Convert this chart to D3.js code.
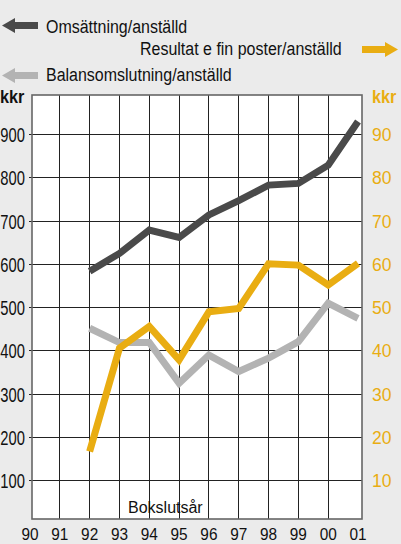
<!DOCTYPE html>
<html>
<head>
<meta charset="utf-8">
<script src="https://cdn.jsdelivr.net/npm/d3@7"></script>
<style>
  html, body { margin: 0; padding: 0; background: #ebebeb; }
  svg { display: block; font-family: "Liberation Sans", Arial, Helvetica, sans-serif; }
</style>
</head>
<body>
<svg id="chart" width="401" height="544"></svg>
<script>
// data
var years = [1992, 1993, 1994, 1995, 1996, 1997, 1998, 1999, 2000, 2001];
var omsattning = [584, 625, 679, 662, 714, 747, 783, 787, 829, 930];      // kkr, left axis
var resultat = [16.7, 40.6, 45.6, 37.9, 49.0, 49.8, 60.1, 59.8, 55.2, 60.2]; // kkr, right axis
var balans = [452, 419, 419, 325, 390, 352, 383, 421, 510, 475];          // kkr, left axis

var yearTicks = [1990, 1991, 1992, 1993, 1994, 1995, 1996, 1997, 1998, 1999, 2000, 2001];
var yearLabels = ['90', '91', '92', '93', '94', '95', '96', '97', '98', '99', '00', '01'];
var leftTicks = [100, 200, 300, 400, 500, 600, 700, 800, 900];
var rightTicks = [10, 20, 30, 40, 50, 60, 70, 80, 90];

var dark = '#4a4a4a',
	grey = '#b3b3b3',
	orange = '#e9ad12';

var svg = d3.select('#chart');
var box = {left: 32, right: 362, top: 95, bottom: 519};

var x = d3.scaleLinear().domain([1990, 2001]).range([30, 358]);
var y = d3.scaleLinear().domain([100, 900]).range([480.5, 134.5]);
var yR = d3.scaleLinear().domain([10, 90]).range([480.5, 134.5]);

// text that is a bit narrower than it is tall, like the original print
function label(g, px, py, txt, o) {
	return g.append('text')
		.attr('transform', 'translate(' + px + ',' + py + ') scale(' + (o.sx || 1) + ',1)')
		.attr('text-anchor', o.anchor || 'start')
		.style('font-size', o.size + 'px')
		.style('font-weight', o.weight || 'normal')
		.style('fill', o.color || '#111')
		.text(txt);
}

// plot background
svg.append('rect')
	.attr('x', box.left).attr('y', box.top)
	.attr('width', box.right - box.left).attr('height', box.bottom - box.top)
	.attr('fill', '#fff');

// grid
var grid = svg.append('g').attr('shape-rendering', 'crispEdges');
grid.selectAll('.hl').data(leftTicks).enter().append('line')
	.attr('x1', box.left - 3).attr('x2', box.right)
	.attr('y1', function(d) { return y(d); }).attr('y2', function(d) { return y(d); })
	.attr('stroke', '#222').attr('stroke-width', 1);
grid.selectAll('.vl').data(yearTicks.slice(1, -1)).enter().append('line')
	.attr('x1', function(d) { return x(d); }).attr('x2', function(d) { return x(d); })
	.attr('y1', box.top).attr('y2', box.bottom)
	.attr('stroke', '#222').attr('stroke-width', 1);

svg.append('rect')
	.attr('x', box.left).attr('y', box.top)
	.attr('width', box.right - box.left).attr('height', box.bottom - box.top)
	.attr('fill', 'none').attr('stroke', '#666').attr('stroke-width', 1.6);

// series
var lineL = d3.line()
	.x(function(d, i) { return x(years[i]); })
	.y(function(d) { return y(d); });
var lineR = d3.line()
	.x(function(d, i) { return x(years[i]); })
	.y(function(d) { return yR(d); });

function series(data, gen, color) {
	svg.append('path')
		.attr('d', gen(data))
		.attr('fill', 'none')
		.attr('stroke', color)
		.attr('stroke-width', 7)
		.attr('stroke-linejoin', 'miter')
		.attr('stroke-linecap', 'butt');
}
series(balans, lineL, grey);
series(resultat, lineR, orange);
series(omsattning, lineL, dark);

// left axis labels (squeezed so they fit left of the frame)
var axL = svg.append('g');
leftTicks.forEach(function(d) {
	label(axL, 25, y(d) + 7.5, d, {anchor: 'end', size: 20.5, sx: 0.72});
});
label(axL, 0, 103, 'kkr', {size: 18, sx: 0.9, weight: 'bold'});

// right axis labels
var axR = svg.append('g');
rightTicks.forEach(function(d) {
	label(axR, 372, yR(d) + 6.7, d, {size: 18.5, sx: 0.95, color: orange});
});
label(axR, 372, 103, 'kkr', {size: 18, sx: 0.9, weight: 'bold', color: orange});

// year labels
var axX = svg.append('g');
yearTicks.forEach(function(d, i) {
	label(axX, x(d), 540, yearLabels[i], {anchor: 'middle', size: 16, sx: 0.96});
});
label(axX, 128, 513, 'Bokslutsår', {size: 16});

// legend
function arrow(g, tipX, cy, dir, color) {
	// dir -1 points left, 1 points right
	var headL = 13, headH = 15, shaftH = 7, len = 36;
	var pts = [
		[0, 0],
		[headL, -headH / 2],
		[headL, -shaftH / 2],
		[len, -shaftH / 2],
		[len, shaftH / 2],
		[headL, shaftH / 2],
		[headL, headH / 2]
	].map(function(p) { return [tipX - dir * p[0], cy + p[1]]; });
	g.append('polygon')
		.attr('points', pts.map(function(p) { return p.join(','); }).join(' '))
		.attr('fill', color);
}
var leg = svg.append('g');
arrow(leg, 2, 25.5, -1, dark);
label(leg, 46, 33, 'Omsättning/anställd', {size: 18.6, sx: 0.86});
label(leg, 140, 55, 'Resultat e fin poster/anställd', {size: 18.6, sx: 0.86});
arrow(leg, 398, 49.5, 1, orange);
arrow(leg, 2, 75.5, -1, grey);
label(leg, 46, 81, 'Balansomslutning/anställd', {size: 18.6, sx: 0.86});
</script>
</body>
</html>
